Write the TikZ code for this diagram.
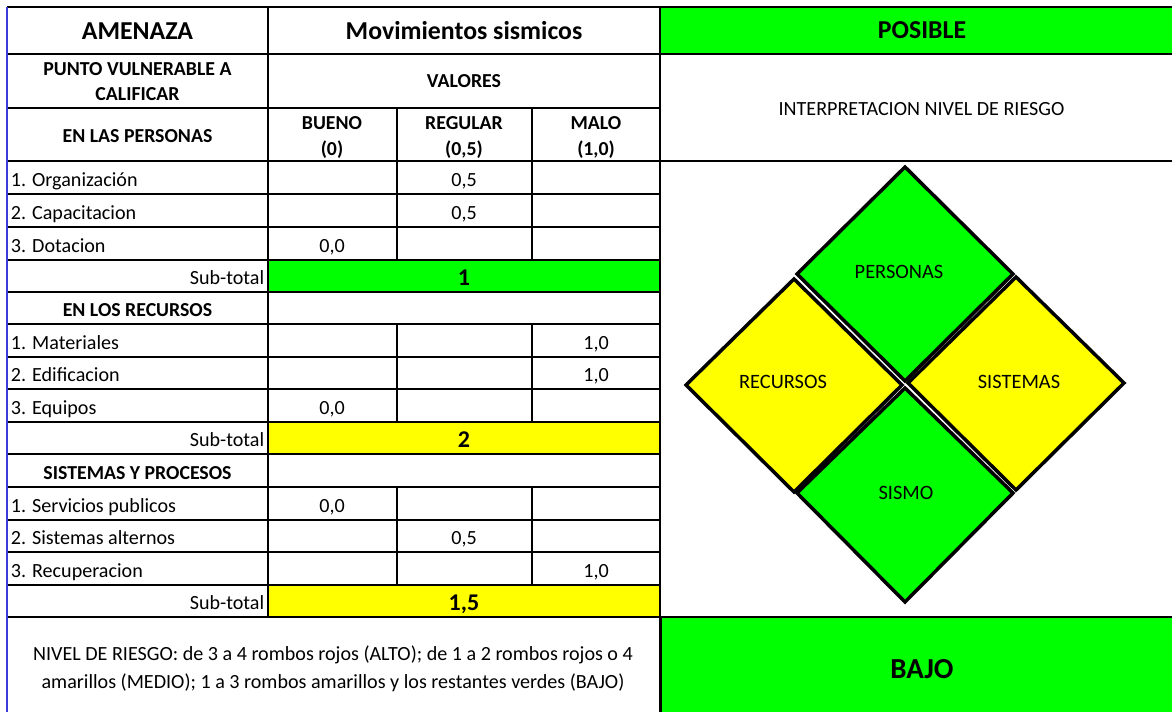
\documentclass[tikz,border=0pt]{standalone}
\usepackage{fontspec}
\setmainfont{Carlito}
\definecolor{xgreen}{HTML}{00FF00}
\definecolor{xyellow}{HTML}{FFFF00}
\definecolor{xblue}{HTML}{3C3CD8}
\begin{document}
\begin{tikzpicture}[x=1pt,y=-1pt,line width=1.7pt,
  body/.style={font=\fontsize{20.1}{23}\selectfont,inner sep=0pt,anchor=base},
  hdr/.style={font=\bfseries\fontsize{19.8}{26}\selectfont,inner sep=0pt,anchor=base,align=center},
  big/.style={font=\bfseries\fontsize{25.8}{30}\selectfont,inner sep=0pt,anchor=base},
  subv/.style={font=\bfseries\fontsize{24}{28}\selectfont,inner sep=0pt,anchor=base},
  dlab/.style={font=\fontsize{20.4}{23}\selectfont,inner sep=0pt,anchor=base},
  rombo/.style={draw=black,line width=3.5pt,line join=miter}
]
\useasboundingbox (0,0) rectangle (1172,712);
\fill[white] (0,0) rectangle (1172,712);
% fills
\fill[xgreen] (660,7) rectangle (1172,54);
\fill[xgreen] (268,260) rectangle (660,292);
\fill[xyellow] (268,422) rectangle (660,454);
\fill[xyellow] (268,585) rectangle (660,617);
\fill[xgreen] (660,617) rectangle (1172,712);
% horizontal lines
\foreach \yy in {54,108,161,194,227,260,292,324,357,389,422,454,487,520,552,585}
  \draw (7,\yy) -- (660,\yy);
\draw (7,7) -- (1172,7);
\draw (660,54) -- (1172,54);
\draw (660,161) -- (1172,161);
\draw (7,617) -- (1172,617);
% vertical lines
\draw (268,7) -- (268,617);
\foreach \xx in {397,532}{
  \draw (\xx,108) -- (\xx,260);
  \draw (\xx,324) -- (\xx,422);
  \draw (\xx,487) -- (\xx,585);
}
\draw (660,7) -- (660,617);
\draw[line width=3pt] (660,617) -- (660,712);
\draw[xblue,line width=1.5pt] (7,7) -- (7,712);
% header texts
\node[big] (amenaza) at (137.5,39.5) {AMENAZA};
\node[big] (mov) at (464,39.5) {Movimientos sismicos};
\node[big] (posible) at (922,38.5) {POSIBLE};
\node[hdr] (punto) at (137.5,75) {PUNTO VULNERABLE A};
\node[hdr] (calif) at (137.5,100.5) {CALIFICAR};
\node[hdr] (valores) at (464,87) {VALORES};
\node[body] (interp) at (921.5,115) {INTERPRETACION NIVEL DE RIESGO};
\node[hdr] (enper) at (137.5,142.5) {EN LAS PERSONAS};
\node[hdr] (bueno) at (332,129) {BUENO};
\node[hdr] (bueno2) at (332,155) {(0)};
\node[hdr] (regular) at (464,129) {REGULAR};
\node[hdr] (regular2) at (464,155) {(0,5)};
\node[hdr] (malo) at (596,129) {MALO};
\node[hdr] (malo2) at (596,155) {(1,0)};
% personas rows
\node[body,anchor=base west] (r1) at (10,186) {1. Organización};
\node[body] (v1) at (464,186) {0,5};
\node[body,anchor=base west] (r2) at (10,219) {2. Capacitacion};
\node[body] (v2) at (464,219) {0,5};
\node[body,anchor=base west] (r3) at (10,252) {3. Dotacion};
\node[body] (v3) at (332,252) {0,0};
\node[body,anchor=base east] (s1) at (265,284) {Sub-total};
\node[subv] (t1) at (464,285) {1};
% recursos
\node[hdr] (enrec) at (137.5,316) {EN LOS RECURSOS};
\node[body,anchor=base west] (r4) at (10,349) {1. Materiales};
\node[body] (v4) at (596,349) {1,0};
\node[body,anchor=base west] (r5) at (10,381) {2. Edificacion};
\node[body] (v5) at (596,381) {1,0};
\node[body,anchor=base west] (r6) at (10,414) {3. Equipos};
\node[body] (v6) at (332,414) {0,0};
\node[body,anchor=base east] (s2) at (265,446) {Sub-total};
\node[subv] (t2) at (464,447) {2};
% sistemas
\node[hdr] (ensis) at (137.5,479) {SISTEMAS Y PROCESOS};
\node[body,anchor=base west] (r7) at (10,512) {1. Servicios publicos};
\node[body] (v7) at (332,512) {0,0};
\node[body,anchor=base west] (r8) at (10,544) {2. Sistemas alternos};
\node[body] (v8) at (464,544) {0,5};
\node[body,anchor=base west] (r9) at (10,577) {3. Recuperacion};
\node[body] (v9) at (596,577) {1,0};
\node[body,anchor=base east] (s3) at (265,609) {Sub-total};
\node[subv] (t3) at (464,610) {1,5};
% bottom
\node[body] (nivel1) at (333,660) {NIVEL DE RIESGO: de 3 a 4 rombos rojos (ALTO); de 1 a 2 rombos rojos o 4};
\node[body] (nivel2) at (333,688) {amarillos (MEDIO); 1 a 3 rombos amarillos y los restantes verdes (BAJO)};
\node[font=\bfseries\fontsize{29}{32}\selectfont,inner sep=0pt,anchor=base] (bajo) at (922,678) {BAJO};
% diamonds
\filldraw[rombo,fill=xgreen] (905,167) -- (1013,274) -- (905,381) -- (797,274) -- cycle;
\filldraw[rombo,fill=xyellow] (794,279) -- (902,385) -- (794,492) -- (686,385) -- cycle;
\filldraw[rombo,fill=xyellow] (1016,277) -- (1124,383) -- (1016,490) -- (908,383) -- cycle;
\filldraw[rombo,fill=xgreen] (905,388) -- (1013,493) -- (905,602) -- (797,493) -- cycle;
\node[dlab] (lper) at (899,278) {PERSONAS};
\node[dlab] (lrec) at (783,388) {RECURSOS};
\node[dlab] (lsis) at (1019,388) {SISTEMAS};
\node[dlab] (lsismo) at (906,499) {SISMO};
\end{tikzpicture}
\end{document}
